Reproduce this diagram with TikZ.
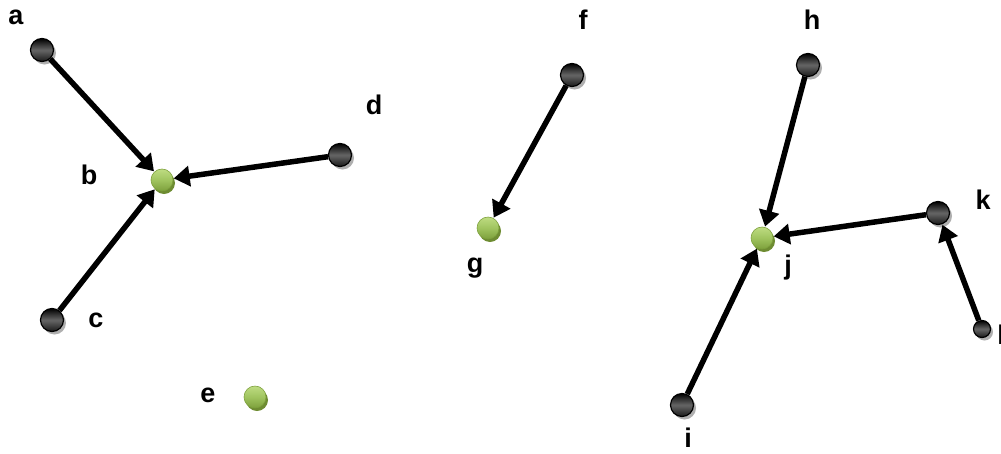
\documentclass[tikz,border=0pt]{standalone}
\usepackage{fontspec}
\setmainfont{Liberation Sans}
\usetikzlibrary{arrows.meta,shadows}
\definecolor{gtop}{RGB}{190,220,130}
\definecolor{gmid}{RGB}{160,196,95}
\definecolor{gbot}{RGB}{125,160,60}
\definecolor{gshad}{RGB}{110,140,50}
\tikzset{
  blk/.style={circle, minimum size=23pt, inner sep=0pt, draw=black, line width=1.2pt,
    top color=black, bottom color=black!90, middle color=black!60,
    drop shadow={shadow xshift=2.5pt, shadow yshift=-3pt, fill=black!35, opacity=0.9}},
  grn/.style={circle, minimum size=22pt, inner sep=0pt, draw=gbot, line width=0.6pt,
    top color=gtop, bottom color=gbot, middle color=gmid,
    drop shadow={shadow xshift=2pt, shadow yshift=-3pt, fill=gshad, opacity=1}},
  lbl/.style={font=\bfseries\fontsize{27}{27}\selectfont, inner sep=0pt},
  arr/.style={line width=5.5pt, -{Triangle[length=16pt,width=20pt]}, shorten >=0.5pt}
}
\begin{document}
\begin{tikzpicture}[x=1pt,y=-1pt]
\useasboundingbox (0,0) rectangle (1001,453);
\node[blk] (a) at (42,50) {};
\node[grn] (b) at (162,180) {};
\node[blk] (c) at (52,320) {};
\node[blk] (d) at (340,155) {};
\node[grn] (e) at (255,397) {};
\node[blk] (f) at (572,75) {};
\node[grn] (g) at (488,228) {};
\node[blk] (h) at (808,65) {};
\node[blk] (i) at (682,405) {};
\node[grn] (j) at (762,238) {};
\node[blk] (k) at (938,213) {};
\node[blk, minimum size=17pt] (l) at (982,329) {};
\node[lbl] (la) at (16,17) {a};
\node[lbl] (lb) at (89,175) {b};
\node[lbl] (lc) at (96,320) {c};
\node[lbl] (ld) at (374,105) {d};
\node[lbl] (le) at (208,395) {e};
\node[lbl] (lf) at (583,20) {f};
\node[lbl] (lg) at (475,268) {g};
\node[lbl] (lh) at (812,20) {h};
\node[lbl] (li) at (688,438) {i};
\node[lbl] (lj) at (788,268) {j};
\node[lbl] (lk) at (983,200) {k};
\node[lbl] (ll) at (1001,335) {l};
\draw[arr] (a) -- (b);
\draw[arr] (c) -- (b);
\draw[arr] (d) -- (b);
\draw[arr] (f) -- (g);
\draw[arr] (h) -- (j);
\draw[arr] (i) -- (j);
\draw[arr] (k) -- (j);
\draw[arr] (l) -- (k);
\end{tikzpicture}
\end{document}
